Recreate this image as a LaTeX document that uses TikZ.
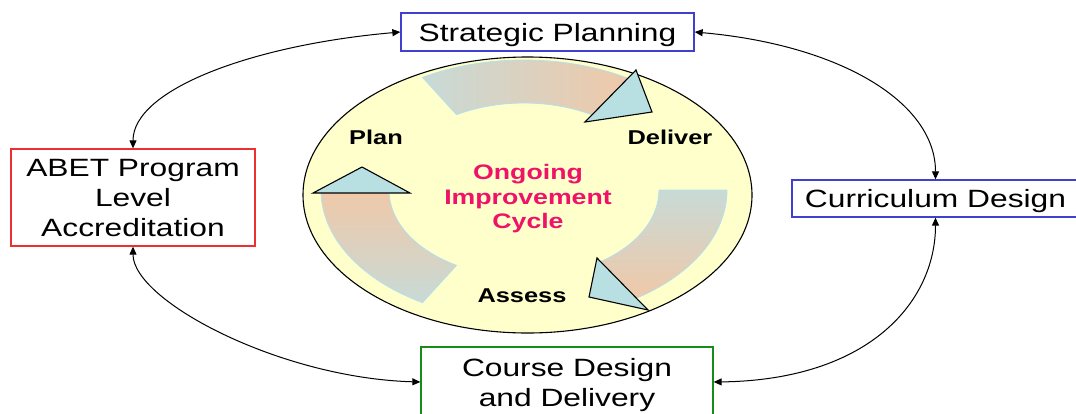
\documentclass[tikz,border=0pt]{standalone}
\usepackage{fontspec}
\setmainfont{Liberation Sans}[FakeStretch=1.27]
\usetikzlibrary{arrows.meta}

\definecolor{boxblue}{RGB}{64,64,208}
\definecolor{boxred}{RGB}{236,48,48}
\definecolor{boxgreen}{RGB}{24,140,24}
\definecolor{cyclebg}{RGB}{255,255,204}
\definecolor{bandcool}{RGB}{200,218,214}
\definecolor{bandwarm}{RGB}{240,200,168}
\definecolor{bandedge}{RGB}{180,224,236}
\definecolor{headfill}{RGB}{184,223,226}
\definecolor{cyclepink}{RGB}{238,18,104}

\begin{document}
\begin{tikzpicture}[x=1pt,y=-1pt,
  topic/.style={draw, line width=1.3pt, fill=white, inner sep=0pt, align=center,
    text depth=0pt, font=\fontsize{25}{30}\selectfont},
  link/.style={line width=1pt,
    {Triangle[length=8pt,width=7pt]}-{Triangle[length=8pt,width=7pt]}},
  band/.style={draw=bandedge, line width=0.8pt},
  head/.style={draw=black, line width=1.1pt, fill=headfill, line join=miter},
  phase/.style={font=\fontsize{20}{24}\selectfont\bfseries},
]
\fill[white] (0,0) rectangle (1076,413);
\useasboundingbox (0,0) rectangle (1076,413);

% central cycle
\draw[fill=cyclebg, line width=1.1pt] (527.5,195) ellipse [x radius=224.5, y radius=138];

% curved bands of the cycle
\begin{scope}[shift={(524,190)}]
  \path[band, left color=bandcool, right color=bandwarm]
    (-120:203 and 130) arc[start angle=-120, end angle=-57, x radius=203, y radius=130]
    -- (-57:135 and 87) arc[start angle=-57, end angle=-120, x radius=135, y radius=87] -- cycle;
  \path[band, top color=bandcool, bottom color=bandwarm]
    (0:203 and 130) arc[start angle=0, end angle=57, x radius=203, y radius=130]
    -- (57:135 and 87) arc[start angle=57, end angle=0, x radius=135, y radius=87] -- cycle;
  \path[band, top color=bandwarm, bottom color=bandcool]
    (120:203 and 130) arc[start angle=120, end angle=180, x radius=203, y radius=130]
    -- (180:135 and 87) arc[start angle=180, end angle=120, x radius=135, y radius=87] -- cycle;
\end{scope}

% arrowheads of the bands
\draw[head] (636,70) -- (652,112) -- (585,122) -- cycle;
\draw[head] (597,258) -- (589,297) -- (648,310) -- cycle;
\draw[head] (313,193) -- (362,167) -- (410,193) -- cycle;

% phase labels
\node[phase] (plan) at (376,137) {Plan};
\node[phase] (deliver) at (670,137) {Deliver};
\node[phase] (assess) at (522,296) {Assess};
\node[font=\fontsize{21}{24.5}\selectfont\bfseries, text=cyclepink, align=center]
  (cycle) at (528,199) {Ongoing\\Improvement\\Cycle};

% surrounding topics
\node[topic, draw=boxblue, minimum width=293pt, minimum height=38pt] (sp) at (547.5,32) {Strategic Planning};
\node[topic, draw=boxred, minimum width=244pt, minimum height=97pt] (abet) at (133,197.5) {ABET Program\\Level\\Accreditation};
\node[topic, draw=boxblue, minimum width=287pt, minimum height=37pt] (curr) at (935.5,198.5) {Curriculum Design};
\node[topic, draw=boxgreen, minimum width=292pt, minimum height=70pt] (course) at (567,382) {Course Design\\and Delivery};

% two-way links
\draw[link] (sp.west) .. controls +(-148,13) and +(0,-59) .. (abet.north);
\draw[link] (abet.south) .. controls +(0,54) and +(-141,-4) .. (course.west);
\draw[link] (sp.east) .. controls +(146,13) and +(0,-77) .. (curr.north);
\draw[link] (curr.south) .. controls +(0,83) and +(157,-2) .. (course.east);
\end{tikzpicture}
\end{document}
